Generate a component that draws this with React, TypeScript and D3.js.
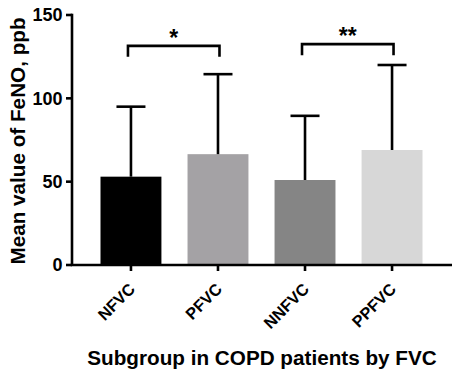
import React from 'react';
import { scaleBand, scaleLinear } from 'd3';

const categories = ['NFVC', 'PFVC', 'NNFVC', 'PPFVC'];
const means = [53, 66.5, 51, 69];
const sds = [42, 48, 38.5, 51];
const barColors = ['#000000', '#a4a2a5', '#858585', '#d7d7d7'];
const yTicks = [0, 50, 100, 150];
const comparisons = [
    { from: 'NFVC', to: 'PFVC', label: '*', level: 131.5 },
    { from: 'NNFVC', to: 'PPFVC', label: '**', level: 132.5 },
];

const W = 452;
const H = 370;
const axisX = 72;
const axisY = 265;
const font = '"Liberation Sans", Arial, sans-serif';

const y = scaleLinear().domain([0, 150]).range([axisY, 15]);
const x = scaleBand().domain(categories).range([100.5, 422.5]).paddingInner(0.3).paddingOuter(0);

const App = () => {
    const bw = x.bandwidth();
    const center = (c: string) => (x(c) as number) + bw / 2;
    return (
        <svg width={W} height={H} style={{ position: 'absolute', left: 0, top: 0, background: '#fff' }}
            fontFamily={font} fontWeight="bold">
            {/* bars */}
            {categories.map((c, i) => (
                <rect key={c} x={x(c)} y={y(means[i])} width={bw} height={axisY - y(means[i])} fill={barColors[i]} />
            ))}
            {/* error bars (upper only) */}
            {categories.map((c, i) => {
                const cx = center(c);
                const top = y(means[i] + sds[i]);
                return (
                    <g key={c} stroke="#000" strokeWidth={2.6}>
                        <line x1={cx} x2={cx} y1={y(means[i])} y2={top} />
                        <line x1={cx - 14.5} x2={cx + 14.5} y1={top} y2={top} />
                    </g>
                );
            })}
            {/* significance brackets */}
            {comparisons.map(cmp => {
                const x1 = center(cmp.from) - 3;
                const x2 = center(cmp.to) + 1.5;
                const ly = y(cmp.level);
                return (
                    <g key={cmp.from}>
                        <path d={`M${x1},${ly + 11}V${ly}H${x2}V${ly + 11}`} fill="none" stroke="#000" strokeWidth={2.6} />
                        <text x={(x1 + x2) / 2} y={ly} textAnchor="middle" fontSize={23}>{cmp.label}</text>
                    </g>
                );
            })}
            {/* y axis */}
            <line x1={axisX} x2={axisX} y1={y(150) - 1.3} y2={axisY} stroke="#000" strokeWidth={2.6} />
            {yTicks.map(t => (
                <g key={t}>
                    <line x1={axisX - 6} x2={axisX} y1={y(t)} y2={y(t)} stroke="#000" strokeWidth={2.6} />
                    <text x={axisX - 9.5} y={y(t)} dy="0.36em" textAnchor="end" fontSize={18}>{t}</text>
                </g>
            ))}
            {/* x axis */}
            <line x1={axisX - 1.3} x2={W} y1={axisY} y2={axisY} stroke="#000" strokeWidth={2.6} />
            {categories.map(c => {
                const cx = center(c);
                return (
                    <g key={c}>
                        <line x1={cx} x2={cx} y1={axisY} y2={axisY + 6} stroke="#000" strokeWidth={2.6} />
                        <text transform={`translate(${cx - 3},${axisY + 17}) rotate(-45)`} dy="0.7em" textAnchor="end" fontSize={16.3}>{c}</text>
                    </g>
                );
            })}
            <text x={262} y={365} textAnchor="middle" fontSize={20.7}>Subgroup in COPD patients by FVC</text>
            <text transform={`translate(25,141) rotate(-90)`} textAnchor="middle" fontSize={20.7}>Mean value of FeNO, ppb</text>
        </svg>
    );
};

export default App;
